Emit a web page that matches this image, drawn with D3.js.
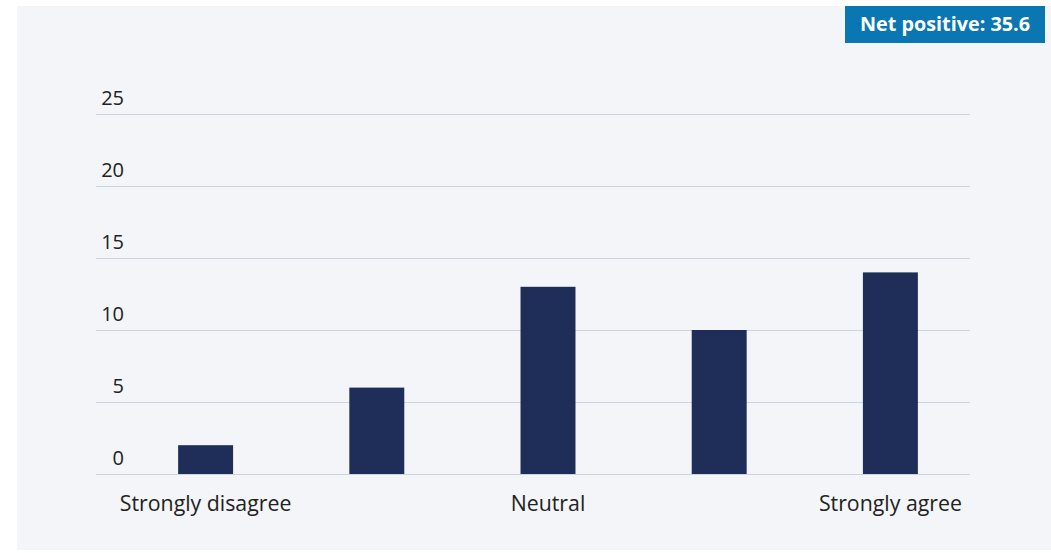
<!DOCTYPE html>
<html><head><meta charset="utf-8">
<script src="https://cdn.jsdelivr.net/npm/d3@7"></script>
<style>
html,body{margin:0;padding:0;background:#fff;}
svg{display:block;}
</style></head>
<body>
<script>
const categories = ["Strongly disagree", "Disagree", "Neutral", "Agree", "Strongly agree"];
const axisLabels = ["Strongly disagree", "", "Neutral", "", "Strongly agree"];
const values = [2, 6, 13, 10, 14];
const yTicks = [0, 5, 10, 15, 20, 25];
const badgeText = "Net positive: 35.6";

const W = 1051, H = 553;
const svg = d3.select("body").append("svg").attr("width", W).attr("height", H);
const font = "'Open Sans', 'Liberation Sans', sans-serif";

svg.append("rect").attr("x", 17).attr("y", 6).attr("width", W - 17).attr("height", 544).attr("fill", "#f3f5f8");

const y = d3.scaleLinear().domain([0, 25]).range([474, 114]);
const x = d3.scaleBand().domain(categories).range([120, 976]).paddingInner(0.679).paddingOuter(0.3395);

// gridlines
svg.append("g").selectAll("line").data(yTicks).join("line")
  .attr("x1", 96).attr("x2", 970)
  .attr("y1", d => Math.round(y(d)) + 0.5).attr("y2", d => Math.round(y(d)) + 0.5)
  .attr("stroke", "#c9d5e0").attr("stroke-width", 1);

// y labels
svg.append("g").selectAll("text").data(yTicks).join("text")
  .attr("x", 124).attr("y", d => y(d) - 9)
  .attr("text-anchor", "end")
  .attr("font-family", font).attr("font-size", 20).attr("fill", "#222")
  .text(d => d);

// bars
svg.append("g").selectAll("rect").data(values).join("rect")
  .attr("x", (d, i) => x(categories[i]))
  .attr("width", x.bandwidth())
  .attr("y", d => y(d))
  .attr("height", d => y(0) - y(d))
  .attr("fill", "#1f2d59");

// x labels
svg.append("g").selectAll("text").data(axisLabels).join("text")
  .attr("x", (d, i) => x(categories[i]) + x.bandwidth() / 2)
  .attr("y", 511)
  .attr("text-anchor", "middle")
  .attr("font-family", font).attr("font-size", 21.3).attr("fill", "#222")
  .text(d => d);

// badge
svg.append("rect").attr("x", 845).attr("y", 6).attr("width", 200).attr("height", 37).attr("fill", "#0a76b2");
svg.append("text").attr("x", 945).attr("y", 31).attr("text-anchor", "middle")
  .attr("font-family", font).attr("font-weight", "bold").attr("font-size", 19.8).attr("fill", "#fff")
  .text(badgeText);
</script>
</body></html>
